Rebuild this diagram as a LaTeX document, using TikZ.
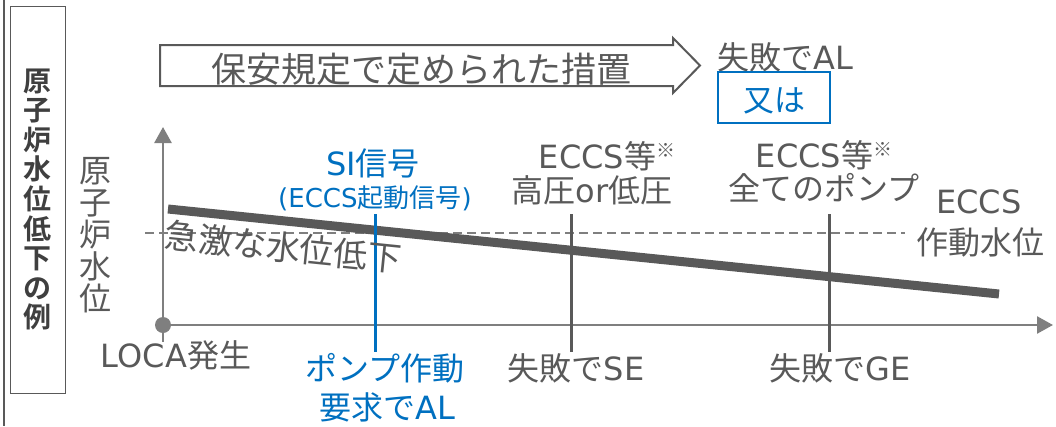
\documentclass[tikz,border=0pt]{standalone}
\usepackage{fontspec}
\setmainfont{Noto Sans CJK JP}[BoldFont={Noto Sans CJK JP Bold}]
\newfontfamily\latfont{DejaVu Sans}
\newcommand{\lt}[1]{{\latfont #1}}
\usetikzlibrary{arrows.meta}
\definecolor{tgray}{HTML}{595959}
\definecolor{agray}{HTML}{7F7F7F}
\definecolor{dgray}{HTML}{3F3F3F}
\definecolor{myblue}{HTML}{0070C0}
\newcommand{\fsz}[1]{\fontsize{#1}{#1}\selectfont}
\newcommand{\kome}{\raisebox{11pt}{\fontsize{19}{19}\selectfont ※}}
\begin{document}
\begin{tikzpicture}[x=1pt,y=-1pt,
  lbl/.style={text=tgray,inner sep=0pt,anchor=base},
  blbl/.style={text=myblue,inner sep=0pt,anchor=base},
  marker/.style={line width=3pt,draw=tgray},
  axisline/.style={line width=2.5pt,draw=agray,-{Triangle[length=16pt,width=17pt]}}]
\useasboundingbox (0,0) rectangle (1056,426);
% left rule
\coordinate (lt) at (4,0); \coordinate (lb) at (4,426);
\draw[tgray,line width=2pt] (lt) -- (lb);
% title box
\node[draw=tgray,line width=1.5pt,minimum width=55pt,minimum height=387pt,anchor=north west,inner sep=0pt] (titlebox) at (9.5,5.5) {};
\node[text=dgray,inner sep=0pt,align=center,font=\bfseries\fontsize{28}{29.6}\selectfont] (title) at (37,199.5) {原\\子\\炉\\水\\位\\低\\下\\の\\例};
% y label
\node[text=tgray,inner sep=0pt,align=center,font=\fontsize{32}{32}\selectfont] (ylabel) at (95,235) {原\\子\\炉\\水\\位};
% axes
\coordinate (O) at (163,325);
\coordinate (ybot) at (163,342);
\coordinate (ytop) at (163,127);
\coordinate (xend) at (1053,325);
\draw[axisline] (ybot) -- (ytop);
\draw[axisline] (O) -- (xend);
\fill[agray] (O) circle[radius=8pt];
% dashed ECCS level
\coordinate (dl) at (145,233); \coordinate (dr) at (905,233);
\draw[agray,line width=2pt,dash pattern=on 9pt off 5pt] (dl) -- (dr);
% water level line
\coordinate (w1) at (168,209); \coordinate (w2) at (999,294);
\draw[tgray,line width=9pt] (w1) -- (w2);
% markers
\coordinate (m1t) at (375,214); \coordinate (m1b) at (375,352);
\coordinate (m2t) at (571.5,214); \coordinate (m2b) at (571.5,352);
\coordinate (m3t) at (829,214); \coordinate (m3b) at (829,352);
\draw[marker,draw=myblue] (m1t) -- (m1b);
\draw[marker] (m2t) -- (m2b);
\draw[marker] (m3t) -- (m3b);
% block arrow
\draw[tgray,line width=2pt,fill=white] (160,45) -- (673,45) -- (673,38) -- (700,65.5) -- (673,93) -- (673,86) -- (160,86) -- cycle;
\node[lbl,font=\fsz{35}] (measures) at (421,82) {保安規定で定められた措置};
\node[lbl,font=\fsz{32}] (failAL) at (785,69) {失敗で\lt{AL}};
\node[draw=myblue,line width=2pt,minimum width=112pt,minimum height=51pt,inner sep=0pt] (orbox) at (774,97.5) {};
\node[blbl,font=\fsz{31}] (ortext) at (774,111) {又は};
% labels
\node[blbl,font=\fsz{32}] (si) at (373,175) {\lt{SI}信号};
\node[blbl,font=\fsz{26}] (sisub) at (375,207) {\lt{(ECCS}起動信号\lt{)}};
\node[lbl,font=\fsz{32}] (e1a) at (607,168) {\lt{ECCS}等\kome};
\node[lbl,font=\fsz{32}] (e1b) at (592,202) {高圧\lt{or}低圧};
\node[lbl,font=\fsz{32}] (e2a) at (824,167) {\lt{ECCS}等\kome};
\node[lbl,font=\fsz{32}] (e2b) at (824,200) {全てのポンプ};
\node[lbl,font=\fsz{32}] (e3a) at (979,213) {\lt{ECCS}};
\node[lbl,font=\fsz{32}] (e3b) at (980,254) {作動水位};
\node[lbl,font=\fsz{34},rotate=-5.84] (drop) at (282,260) {急激な水位低下};
\node[lbl,font=\fsz{32}] (loca) at (176,367) {\lt{LOCA}発生};
\node[blbl,font=\fsz{32}] (pump1) at (385,380) {ポンプ作動};
\node[blbl,font=\fsz{32}] (pump2) at (387,419) {要求で\lt{AL}};
\node[lbl,font=\fsz{32}] (se) at (576,380) {失敗で\lt{SE}};
\node[lbl,font=\fsz{32}] (ge) at (840,380) {失敗で\lt{GE}};
\end{tikzpicture}
\end{document}
